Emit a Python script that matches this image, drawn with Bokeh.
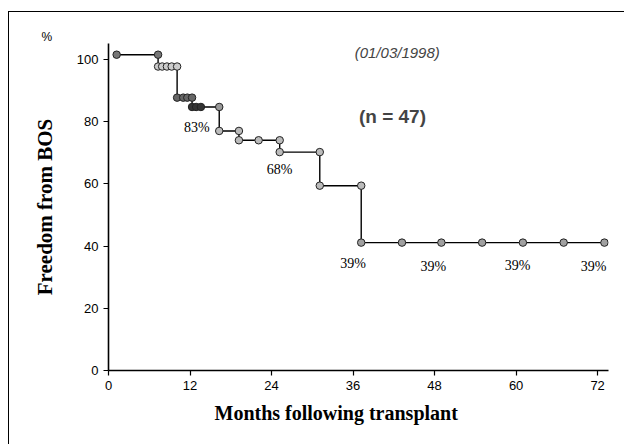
from bokeh.plotting import figure
from bokeh.models import ColumnDataSource, FixedTicker, Label, Title
from bokeh.core.properties import value
from bokeh.embed import file_html
from bokeh.resources import INLINE

# --- data ---
months = [1.2, 7.3, 7.3, 7.9, 8.6, 9.3, 10.1, 10.1, 11.0, 11.6, 12.3,
          12.3, 12.9, 13.6, 16.3, 16.3, 19.2, 19.2, 22.1, 25.2, 25.2, 31.1,
          31.1, 37.2, 37.2, 43.2, 49.0, 55.0, 61.0, 67.0, 73.0]
freedom = [101.5, 101.5,
           97.7, 97.7, 97.7, 97.7, 97.7,
           87.7, 87.7, 87.7, 87.7,
           84.7, 84.7, 84.7, 84.7,
           77.0, 77.0,
           74.0, 74.0, 74.0,
           70.2, 70.2,
           59.4, 59.4,
           41.1, 41.1, 41.1, 41.1, 41.1, 41.1, 41.1]
marker_fill = (["#777777"] * 2 + ["#cccccc"] * 5 + ["#666666"] * 4 +
               ["#333333"] * 3 + ["#999999"] + ["#bbbbbb"] * 9 + ["#a0a0a0"] * 7)

pct_x = [13.0, 25.2, 36.0, 47.8, 60.2, 71.4]
pct_y = [78.2, 64.6, 34.4, 33.4, 33.9, 33.4]
pct_labels = ["83%", "68%", "39%", "39%", "39%", "39%"]

x_ticks = [0, 12, 24, 36, 48, 60, 72]
y_ticks = [0, 20, 40, 60, 80, 100]

p = figure(width=616, height=433, output_backend="svg", toolbar_location=None,
           x_range=(0, 73.6), y_range=(0, 105.1),
           min_border_left=99, min_border_right=17,
           min_border_top=31, min_border_bottom=75,
           y_axis_label="Freedom from BOS")
p.styles = {"border-top": "1px solid black", "border-left": "1px solid black",
            "margin-left": "8px", "margin-top": "11px"}
p.outline_line_color = None
p.grid.visible = False
p.background_fill_color = "white"
p.border_fill_color = "white"

p.title = Title(text="%", align="left", offset=-67, standoff=-1,
                text_font="Liberation Sans", text_font_size="12px",
                text_font_style="normal", text_color="black")

for ax in (p.xaxis[0], p.yaxis[0]):
    ax.axis_line_width = 1.6
    ax.axis_line_color = "black"
    ax.major_tick_line_color = "black"
    ax.major_tick_line_width = 1.2
    ax.major_tick_in = 0
    ax.major_tick_out = 5
    ax.minor_tick_line_color = None
    ax.major_label_text_font = "Liberation Sans"
    ax.major_label_text_font_size = "13px"
    ax.major_label_text_color = "black"
    ax.major_label_standoff = 5
    ax.axis_label_text_font = "Liberation Serif"
    ax.axis_label_text_font_style = "bold"
    ax.axis_label_text_color = "black"
p.xaxis.ticker = FixedTicker(ticks=x_ticks)
p.yaxis.ticker = FixedTicker(ticks=y_ticks)
p.yaxis.axis_label_text_font_size = "21px"
p.yaxis.axis_label_standoff = 17

# x-axis title, placed below the axis and shifted left as in the reference
p.add_layout(Title(text="Months following transplant", align="left", offset=106,
                   standoff=15, text_font="Liberation Serif", text_font_style="bold",
                   text_font_size="20px", text_color="black"), "below")

src = ColumnDataSource(dict(x=months, y=freedom, c=marker_fill))
p.line("x", "y", source=src, line_color="black", line_width=1.4)
p.scatter("x", "y", source=src, size=7.5, fill_color="c", line_color="#222222",
          line_width=1)

p.text(x=pct_x, y=pct_y, text=pct_labels, text_font=value("Liberation Serif"),
       text_font_size="14px", text_align="center", text_baseline="middle",
       text_color="black")

p.add_layout(Label(x=41.8, y=81.5, text="(n = 47)", text_font="Liberation Sans",
                   text_font_style="bold", text_font_size="19px",
                   text_align="center", text_baseline="middle"))
p.add_layout(Label(x=42.5, y=102.2, text="(01/03/1998)", text_font="Liberation Sans",
                   text_font_style="italic", text_font_size="15px",
                   text_align="center", text_baseline="middle"))

open("out.html", "w").write(file_html(p, INLINE))
